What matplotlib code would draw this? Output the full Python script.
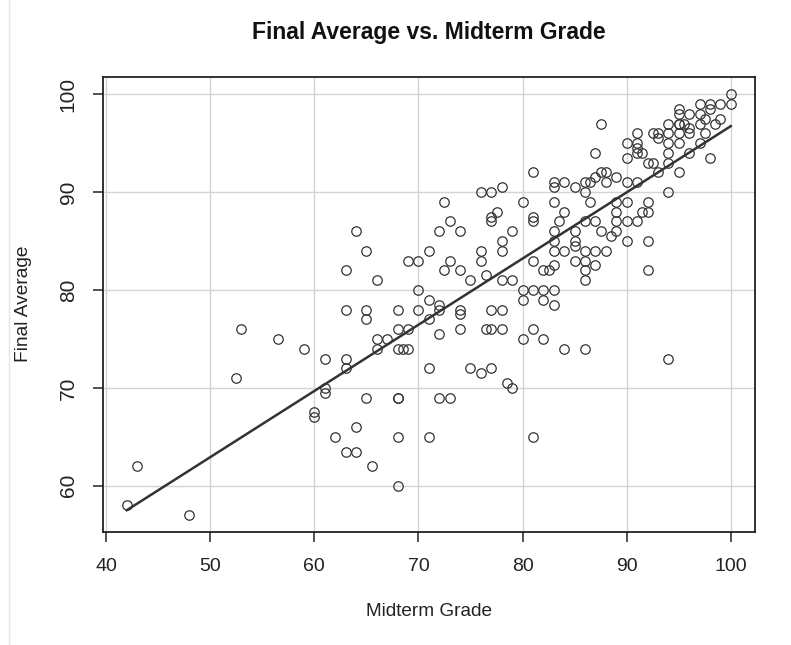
import numpy as np
import matplotlib
matplotlib.use("Agg")
import matplotlib.pyplot as plt
from matplotlib.lines import Line2D

plt.rcParams['font.family'] = ['Liberation Sans', 'DejaVu Sans']

midterm = [42, 43, 48, 52.5, 53, 56.5, 59, 60, 60, 61, 61, 61, 62,
           63, 63, 63, 63, 63, 64, 64, 64, 65, 65, 65, 65, 65.5, 66, 66, 66, 67,
           68, 68, 68, 68, 68, 68, 68, 68.5, 69, 69, 69, 70, 70, 70,
           71, 71, 71, 71, 71, 72, 72, 72, 72, 72, 72.5, 72.5, 73, 73, 73,
           74, 74, 74, 74, 74, 75, 75, 76, 76, 76, 76, 76.5, 76.5,
           77, 77, 77, 77, 77, 77, 77.5, 78, 78, 78, 78, 78, 78, 78.5,
           79, 79, 79, 80, 80, 80, 80, 81, 81, 81, 81, 81, 81, 81,
           82, 82.5, 82, 82, 82, 83, 83, 83, 83, 83, 83, 83, 83, 83, 83.5,
           84, 84, 84, 84, 85, 85, 85, 85, 85, 86, 86, 86, 86, 86, 86, 86, 86,
           86.5, 86.5, 87, 87, 87, 87, 87, 87.5, 87.5, 87.5, 88, 88, 88, 88.5,
           89, 89, 89, 89, 89, 90, 90, 90, 90, 90, 90,
           91, 91, 91, 91, 91, 91, 91.5, 91.5, 92, 92, 92, 92, 92, 92.5, 92.5,
           93, 93, 93, 94, 94, 94, 94, 94, 94, 94, 95, 95, 95, 95, 95, 95, 95,
           95.5, 96, 96, 96, 96, 97, 97, 97, 97, 97.5, 97.5, 98, 98, 98, 98.5,
           99, 99, 100, 100]
final = [58, 62, 57, 71, 76, 75, 74, 67.5, 67, 73, 70, 69.5, 65,
         82, 78, 73, 72, 63.5, 86, 66, 63.5, 84, 78, 77, 69, 62, 81, 75, 74, 75,
         78, 76, 74, 69, 69, 65, 60, 74, 74, 83, 76, 83, 80, 78,
         84, 79, 77, 72, 65, 86, 78.5, 78, 75.5, 69, 89, 82, 87, 83, 69,
         86, 82, 78, 77.5, 76, 81, 72, 90, 84, 83, 71.5, 81.5, 76,
         90, 87.5, 87, 78, 76, 72, 88, 90.5, 85, 84, 81, 78, 76, 70.5,
         86, 81, 70, 89, 80, 79, 75, 92, 87.5, 87, 83, 80, 76, 65,
         82, 82, 80, 79, 75, 91, 90.5, 89, 86, 85, 84, 82.5, 80, 78.5, 87,
         91, 88, 84, 74, 90.5, 86, 85, 84.5, 83, 91, 90, 87, 84, 83, 82, 81, 74,
         91, 89, 94, 91.5, 87, 84, 82.5, 97, 92, 86, 92, 91, 84, 85.5,
         91.5, 89, 88, 87, 86, 95, 93.5, 91, 89, 87, 85,
         96, 95, 94.5, 94, 91, 87, 94, 88, 93, 89, 88, 85, 82, 96, 93,
         96, 95.5, 92, 97, 96, 95, 94, 93, 90, 73, 98.5, 98, 97, 96, 95, 92, 97,
         97, 98, 96.5, 96, 94, 99, 98, 97, 95, 97.5, 96, 99, 98.5, 93.5, 97,
         99, 97.5, 100, 99]

x = np.array(midterm, dtype=float)
y = np.array(final, dtype=float)

fig = plt.figure(figsize=(7.91, 6.45), dpi=100)
ax = fig.add_axes([0.1298, 1 - 532 / 645, (755 - 102.7) / 791, (532 - 77.3) / 645])

ax.grid(True, color='#d4d4d4', linewidth=1.0)
ax.set_axisbelow(True)
ax.plot(x, y, linestyle='none', marker='o', markersize=6.8, markerfacecolor='none',
        markeredgecolor='#333333', markeredgewidth=0.9, zorder=3)

slope, intercept = np.polyfit(x, y, 1)
xl = np.array([x.min(), x.max()])
ax.plot(xl, intercept + slope * xl, color='#333333', linewidth=1.8, zorder=4)

ax.set_xlim(39.68, 102.32)
ax.set_ylim(55.28, 101.72)
ax.set_xticks([40, 50, 60, 70, 80, 90, 100])
ax.set_yticks([60, 70, 80, 90, 100])
for s in ax.spines.values():
    s.set_linewidth(1.3)
    s.set_color('#222222')
ax.tick_params(axis='both', direction='out', length=7, width=1.1, color='#222222',
               labelsize=14, labelcolor='#222222')
ax.tick_params(axis='x', pad=12)
ax.tick_params(axis='y', pad=11, labelsize=15)
for lab in ax.get_yticklabels():
    lab.set_rotation(90)
    lab.set_va('center')

fig.text(429 / 791, 1 - 32 / 645, 'Final Average vs. Midterm Grade', ha='center', va='center',
         fontsize=16.5, fontweight='bold', color='#111111')
fig.text(429 / 791, 1 - 612 / 645, 'Midterm Grade', ha='center', va='center', fontsize=13.7,
         color='#222222')
fig.text(24 / 791, 1 - 304 / 645, 'Final Average', ha='center', va='center', fontsize=13.8,
         rotation=90, color='#222222')
fig.add_artist(Line2D([9 / 791, 9 / 791], [0, 1], color='#e6e6e6', linewidth=1.0,
                      transform=fig.transFigure))

fig.savefig('out.png', dpi=100)
